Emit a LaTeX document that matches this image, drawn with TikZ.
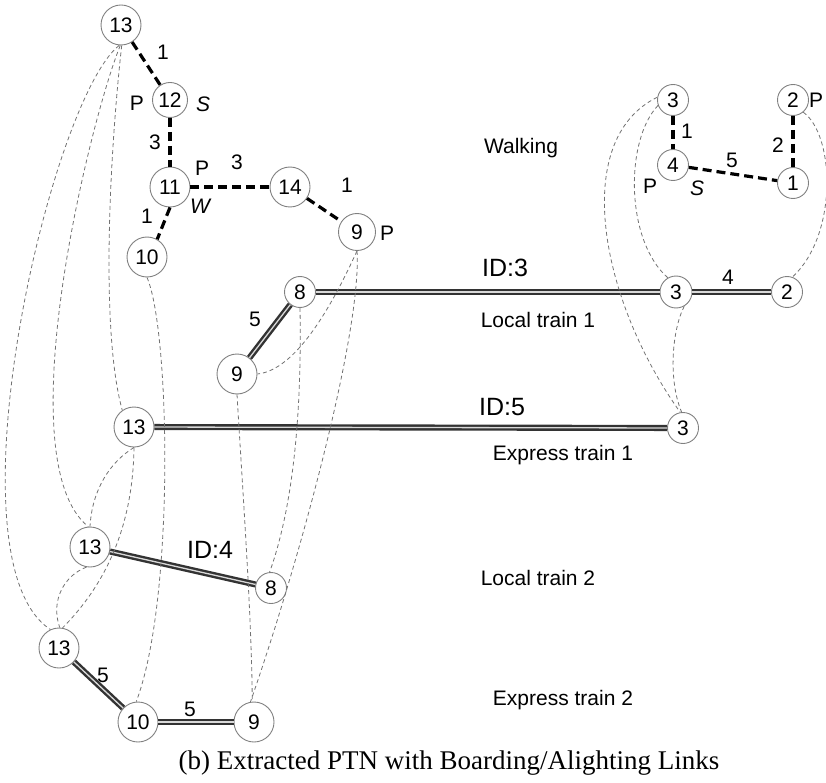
\documentclass[tikz,border=0pt]{standalone}
\usepackage{fontspec}
\setmainfont{Liberation Serif}
\setsansfont{Liberation Sans}
\usetikzlibrary{positioning}
\tikzstyle{stn} = [circle, draw=gray, line width=0.9pt, fill=white, minimum size=40pt, inner sep=0pt, text centered, font=\sffamily\fontsize{21}{21}\selectfont]
\tikzstyle{stnsm} = [stn, minimum size=31pt]
\tikzstyle{walk} = [line width=3.2pt, dash pattern=on 9pt off 5pt]
\tikzstyle{ride} = [draw=black!80, line width=2.4pt, double=gray!30, double distance=1.3pt]
\tikzstyle{board} = [draw=black!55, line width=0.8pt, dash pattern=on 4pt off 3pt]
\tikzstyle{wt} = [inner sep=0pt, font=\sffamily\fontsize{21}{21}\selectfont]
\tikzstyle{lineid} = [inner sep=0pt, font=\sffamily\fontsize{25}{25}\selectfont]
\tikzstyle{layer} = [inner sep=0pt, font=\sffamily\fontsize{21}{21}\selectfont]

\begin{document}
\begin{tikzpicture}[x=1pt, y=-1pt]
\useasboundingbox (0,0) rectangle (826,783);

% Nodes: walking layer
\node (w13) [stn] at (121,25) {13};
\node (w12) [stn, minimum size=35pt] at (170,100) {12};
\node (w11) [stn] at (170,187) {11};
\node (w14) [stn] at (290,187) {14};
\node (w10) [stn] at (147,257) {10};
\node (w9) [stn, minimum size=37pt] at (357,232) {9};
\node (w3) [stnsm] at (673,100) {3};
\node (w4) [stnsm] at (673,165) {4};
\node (w1) [stnsm] at (793,183) {1};
\node (w2) [stnsm] at (793,100) {2};

% Nodes: train lines
\node (l9) [stn] at (237,374) {9};
\node (l8) [stnsm] at (300,292) {8};
\node (l3) [stnsm, minimum size=32pt] at (676,292) {3};
\node (l2) [stnsm] at (787,292) {2};
\node (e13) [stn] at (134,427) {13};
\node (e3) [stnsm] at (683,428) {3};
\node (m13) [stn] at (90,547) {13};
\node (m8) [stnsm] at (271,588) {8};
\node (x13) [stn] at (59,648) {13};
\node (x10) [stn] at (138,722) {10};
\node (x9) [stn] at (254,722) {9};

% Walking links
\draw [walk] (w13) -- (w12);
\draw [walk] (w12) -- (w11);
\draw [walk] (w11) -- (w14);
\draw [walk] (w14) -- (w9);
\draw [walk] (w11.south) -- (w10.60);
\draw [walk] (w3) -- (w4);
\draw [walk] (w4) -- (w1);
\draw [walk] (w2) -- (w1);

% Train links
\draw [ride] (l9) -- (l8);
\draw [ride] (l8) -- (l3);
\draw [ride] (l3) -- (l2);
\draw [ride] (e13) -- (e3);
\draw [ride] (m13) -- (m8);
\draw [ride] (x13) -- (x10);
\draw [ride] (x10) -- (x9);

% Boarding / alighting links
\draw [board] (w13.265) .. controls (50,100) and (-56,560) .. (x13.115);
\draw [board] (w13.268) .. controls (90,120) and (6,460) .. (m13.95);
\draw [board] (w13.272) .. controls (110,150) and (100,330) .. (e13.125);
\draw [board] (w10.south) .. controls (170,330) and (175,600) .. (x10.95);
\draw [board] (e13.south) .. controls (110,462) and (92,490) .. (m13.north);
\draw [board] (e13.south) .. controls (133,520) and (110,580) .. (x13.80);
\draw [board] (m13.260) .. controls (65,575) and (50,600) .. (x13.88);
\draw [board] (w9.south) .. controls (330,310) and (295,370) .. (l9.east);
\draw [board] (w9.south) .. controls (362,330) and (300,560) .. (x9.100);
\draw [board] (l8.south) .. controls (302,420) and (292,510) .. (m8.95);
\draw [board] (l9.south) .. controls (242,480) and (252,620) .. (x9.95);
\draw [board] (w3.170) .. controls (570,140) and (600,300) .. (e3.100);
\draw [board] (w3.200) .. controls (625,140) and (625,240) .. (l3.120);
\draw [board] (l3.300) .. controls (672,330) and (668,380) .. (e3.95);
\draw [board] (w2.310) .. controls (835,135) and (838,235) .. (l2.70);

% Link weights
\node (t1) [wt] at (163,52) {1};
\node (t2) [wt] at (155,142) {3};
\node (t3) [wt] at (237,162) {3};
\node (t4) [wt] at (347,185) {1};
\node (t5) [wt] at (147,216) {1};
\node (t6) [wt] at (687,131) {1};
\node (t7) [wt] at (732,160) {5};
\node (t8) [wt] at (778,145) {2};
\node (t9) [wt] at (728,277) {4};
\node (t10) [wt] at (255,319) {5};
\node (t11) [wt] at (103,675) {5};
\node (t12) [wt] at (190,709) {5};

% Station marks
\node (p12) [wt] at (137,103) {P};
\node (s12) [wt] at (203,104) {\itshape S};
\node (p11) [wt] at (202,168) {P};
\node (q11) [wt] at (200,206) {\itshape W};
\node (p9) [wt] at (387,233) {P};
\node (p4) [wt] at (650,186) {P};
\node (s4) [wt] at (697,188) {\itshape S};
\node (p2) [wt] at (816,100) {P};

% Line ids and layer names
\node (id3) [lineid] at (505,268) {ID:3};
\node (id5) [lineid] at (502,407) {ID:5};
\node (id4) [lineid] at (210,550) {ID:4};
\node (walking) [layer] at (521,148) {Walking};
\node (local1) [layer] at (538,320) {Local train 1};
\node (express1) [layer] at (563,455) {Express train 1};
\node (local2) [layer] at (538,578) {Local train 2};
\node (express2) [layer] at (563,700) {Express train 2};

\node (caption) [inner sep=0pt, font=\fontsize{27}{27}\selectfont] at (449,763) {(b) Extracted PTN with Boarding/Alighting Links};

\end{tikzpicture}
\end{document}
